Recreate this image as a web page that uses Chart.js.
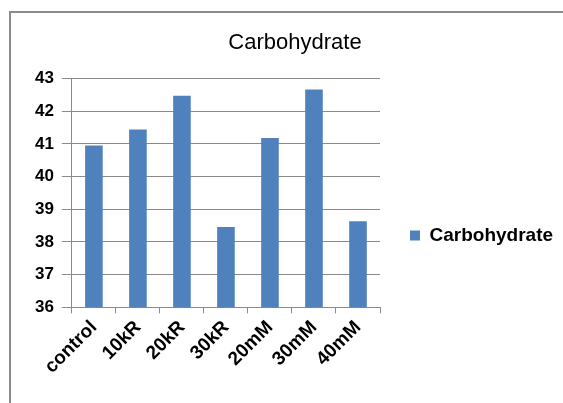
<!DOCTYPE html>
<html>
<head>
<meta charset="utf-8">
<script src="https://cdn.jsdelivr.net/npm/chart.js@4"></script>
<style>
  html, body { margin: 0; padding: 0; background: #fff; }
  #wrap { width: 563px; height: 403px; }
</style>
</head>
<body>
<div id="wrap"><canvas id="chart" width="563" height="403"></canvas></div>
<script>
const categories = ['control', '10kR', '20kR', '30kR', '20mM', '30mM', '40mM'];
const carbohydrate = [40.95, 41.44, 42.47, 38.46, 41.18, 42.66, 38.63];
const yTicks = [36, 37, 38, 39, 40, 41, 42, 43];

// grey frame round the chart, like the Excel chart border
const frame = {
    id: 'frame',
    beforeDraw(chart) {
        const ctx = chart.ctx;
        ctx.save();
        ctx.fillStyle = '#fff';
        ctx.fillRect(0, 0, chart.width, chart.height);
        ctx.strokeStyle = '#8c8c8c';
        ctx.lineWidth = 2;
        ctx.strokeRect(10, 12, 700, 600);
        ctx.restore();
    }
};

// the legend box is capped at a quarter of the width; give it the room it had in Excel
const legendRoom = {
    id: 'legendRoom',
    afterInit(chart) {
        const legend = chart.legend;
        const fit = legend.fit;
        legend.fit = function () {
            fit.call(this);
            if (!this.isHorizontal()) this.width = 183;
        };
    }
};

const ctx = document.getElementById('chart').getContext('2d');
new Chart(ctx, {
    type: 'bar',
    data: {
        labels: categories,
        datasets: [{
            label: 'Carbohydrate',
            data: carbohydrate,
            backgroundColor: '#4F81BD',
            borderWidth: 0,
            barPercentage: 0.4,
            categoryPercentage: 1
        }]
    },
    options: {
        responsive: false,
        animation: false,
        layout: { padding: { left: 27, right: 0, top: 20, bottom: 22 } },
        plugins: {
            title: {
                display: true,
                text: 'Carbohydrate',
                color: '#000',
                font: { family: 'Liberation Sans', size: 22, weight: 'normal' },
                padding: { top: 10, bottom: 22 }
            },
            legend: {
                position: 'right',
                // empty title only pushes the single entry down to where Excel put it
                title: { display: true, text: ' ', font: { size: 10 }, padding: { top: 0, bottom: 58 } },
                labels: {
                    boxWidth: 10,
                    boxHeight: 10,
                    padding: 30,
                    color: '#000',
                    font: { family: 'Liberation Sans', size: 19, weight: 'bold' }
                }
            },
            tooltip: { enabled: false }
        },
        scales: {
            x: {
                grid: { drawOnChartArea: false, drawTicks: true, tickLength: 6, color: '#8a8a8a' },
                border: { color: '#8a8a8a' },
                ticks: {
                    minRotation: 45,
                    maxRotation: 45,
                    color: '#000',
                    font: { family: 'Liberation Sans', size: 19, weight: 'bold' }
                }
            },
            y: {
                min: 36,
                max: 43,
                afterBuildTicks(axis) { axis.ticks = yTicks.map(v => ({ value: v })); },
                grid: { color: '#8a8a8a', tickLength: 10 },
                border: { color: '#8a8a8a' },
                ticks: {
                    padding: 8,
                    color: '#000',
                    font: { family: 'Liberation Sans', size: 17, weight: 'bold' }
                }
            }
        }
    },
    plugins: [frame, legendRoom]
});
</script>
</body>
</html>
